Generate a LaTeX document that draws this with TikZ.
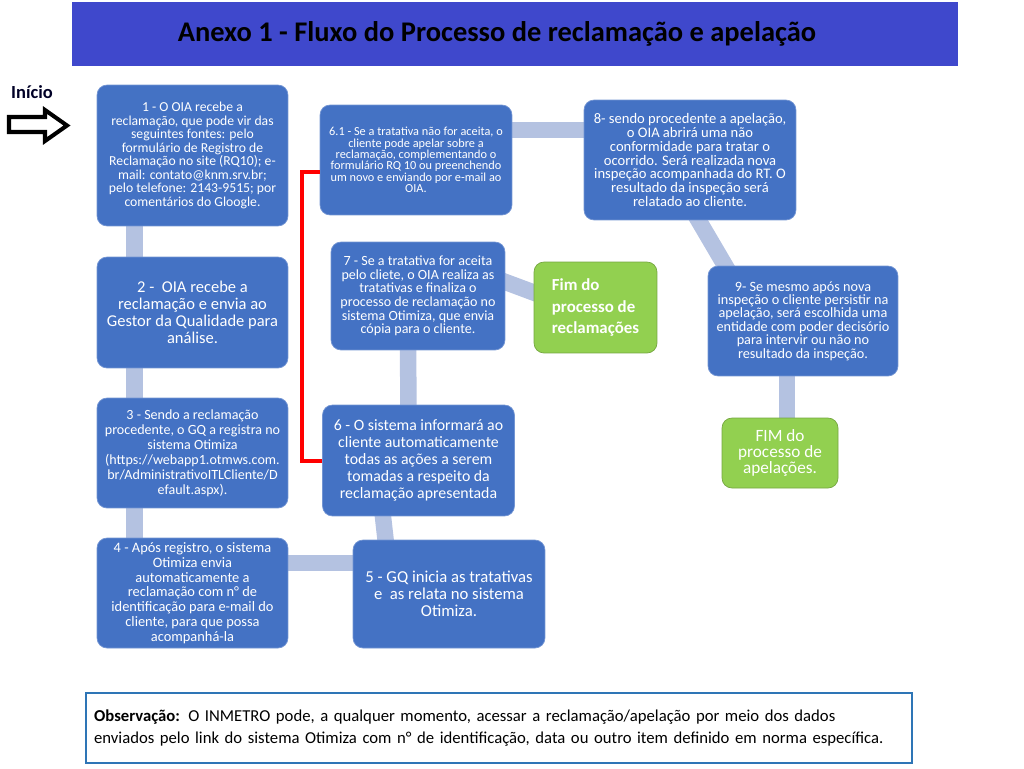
\documentclass[tikz,border=0pt]{standalone}
\usepackage{fontspec}
\setmainfont{Carlito}
\usetikzlibrary{calc,backgrounds}
\definecolor{caixa}{HTML}{4472C4}
\definecolor{ligacao}{HTML}{B4C2E1}
\definecolor{verde}{HTML}{92D050}
\definecolor{faixa}{HTML}{3F48CC}
\definecolor{obsazul}{HTML}{2E75B6}

\begin{document}
\begin{tikzpicture}[x=0.02cm, y=-0.02cm,
  passo/.style={draw=caixa!75!white, fill=caixa, rounded corners=0.2cm, text=white, align=center, inner sep=1pt},
  fim/.style={draw=verde!80!black, fill=verde, rounded corners=0.2cm, text=white, inner sep=1pt},
  barra/.style={draw=ligacao, line width=0.33cm},
  colchete/.style={draw=red, line width=0.08cm},
  titulo/.style={font=\fontsize{16.2}{18}\selectfont\bfseries}
]
\useasboundingbox (0,0) rectangle (1024,768);

% faixa do titulo
\fill[faixa] (72,2) rectangle (958,66);
\node[titulo] (tit) at (497,34) {Anexo 1 - Fluxo do Processo de reclamação e apelação};

% inicio
\node[font=\fontsize{10.5}{12}\selectfont\bfseries, text=black!85!blue] (inicio) at (32,92) {Início};
\draw[line width=2.3pt, line join=miter] (9,117)--(45,117)--(45,110)--(67,125.5)--(45,141)--(45,132)--(9,132)--cycle;

% coluna da esquerda
\node[passo, minimum width=3.82cm, minimum height=2.82cm, font=\fontsize{7.8}{7.7}\selectfont] (b1) at (192.5,155.5)
  {1 - O OIA recebe a\\reclamação, que pode vir das\\seguintes fontes: pelo\\formulário de Registro de\\Reclamação no site (RQ10); e-\\mail: contato@knm.srv.br;\\pelo telefone: 2143-9515; por\\comentários do Gloogle.};
\node[passo, minimum width=3.82cm, minimum height=2.22cm, font=\fontsize{9.4}{9.6}\selectfont] (b2) at (192.5,312.5)
  {2 -\ \ OIA recebe a\\reclamação e envia ao\\Gestor da Qualidade para\\análise.};
\node[passo, minimum width=3.82cm, minimum height=2.2cm, font=\fontsize{8}{8.5}\selectfont] (b3) at (192.5,453)
  {3 - Sendo a reclamação\\procedente, o GQ a registra no\\sistema Otimiza\\(https://webapp1.otmws.com.\\br/AdministrativoITLCliente/D\\efault.aspx).};
\node[passo, minimum width=3.82cm, minimum height=2.2cm, font=\fontsize{8.2}{8.4}\selectfont] (b4) at (192.5,593)
  {4 - Após registro, o sistema\\Otimiza envia\\automaticamente a\\reclamação com n° de\\identificação para e-mail do\\cliente, para que possa\\acompanhá-la};

% coluna do meio
\node[passo, minimum width=3.84cm, minimum height=2.16cm, font=\fontsize{9.5}{9.8}\selectfont] (b5) at (449,594)
  {5 - GQ inicia as tratativas\\e\ \ as relata no sistema\\Otimiza.};
\node[passo, minimum width=3.84cm, minimum height=2.22cm, font=\fontsize{9}{9.6}\selectfont] (b6) at (418.5,460.5)
  {6 - O sistema informará ao\\cliente automaticamente\\todas as ações a serem\\tomadas a respeito da\\reclamação apresentada};
\node[passo, minimum width=3.48cm, minimum height=2.16cm, font=\fontsize{8}{7.7}\selectfont] (b7) at (418,296)
  {7 - Se a tratativa for aceita\\pelo cliete, o OIA realiza as\\tratativas e finaliza o\\processo de reclamação no\\sistema Otimiza, que envia\\cópia para o cliente.};
\node[fim, minimum width=2.46cm, minimum height=1.82cm, align=left, font=\fontsize{9.6}{12.3}\selectfont\bfseries] (fimr) at (595.5,307.5)
  {Fim do\\processo de\\reclamações};
\node[passo, minimum width=3.84cm, minimum height=2.2cm, font=\fontsize{7}{6.5}\selectfont] (b61) at (416,160)
  {6.1 - Se a tratativa não for aceita, o\\cliente pode apelar sobre a\\reclamação, complementando o\\formulário RQ 10 ou preenchendo\\um novo e enviando por e-mail ao\\OIA.};

% coluna da direita
\node[passo, minimum width=4.24cm, minimum height=2.4cm, font=\fontsize{8.3}{7.9}\selectfont] (b8) at (690,160)
  {8- sendo procedente a apelação,\\o OIA abrirá uma não\\conformidade para tratar o\\ocorrido. Será realizada nova\\inspeção acompanhada do RT. O\\resultado da inspeção será\\relatado ao cliente.};
\node[passo, minimum width=3.8cm, minimum height=2.2cm, font=\fontsize{8.1}{7.6}\selectfont] (b9) at (803,321)
  {9- Se mesmo após nova\\inspeção o cliente persistir na\\apelação, será escolhida uma\\entidade com poder decisório\\para intervir ou não no\\resultado da inspeção.};
\node[fim, minimum width=2.32cm, minimum height=1.4cm, align=center, font=\fontsize{9.8}{9.3}\selectfont] (fima) at (780,453)
  {FIM do\\processo de\\apelações.};

% ligacoes
\begin{pgfonlayer}{background}
\foreach \a/\b in {b1/b2,b2/b3,b3/b4}
{
  \draw[barra] ($(\a.south)+(-58,-4)$)--($(\b.north)+(-58,4)$);
}
\draw[barra] ($(b4.east)+(-4,-30)$)--($(b5.west)+(4,-31)$);
\draw[barra] ($(b5.north)+(-63,4)$)--($(b6.south)+(-36,-4)$);
\draw[barra] ($(b6.north)+(-10,4)$)--($(b7.south)+(-10,-4)$);
\draw[barra] ($(b7.east)+(-8,-17)$)--($(fimr.west)+(8,-12)$);
\draw[barra] ($(b61.east)+(-4,-30)$)--($(b8.west)+(4,-30)$);
\draw[barra] ($(b8.south)+(5,-6)$)--($(b9.north west)+(21,6)$);
\draw[barra] ($(b9.south)+(-16,-4)$)--($(fima.north)+(7,4)$);
\end{pgfonlayer}
\draw[colchete] ($(b61.west)+(0,12)$)--++(-18,0)|-(b6.west);

% observacao
\node[draw=obsazul, line width=1.4pt, minimum width=16.52cm, minimum height=1.4cm, text width=16.2cm, align=left,
  font=\fontsize{9.5}{12.5}\selectfont] (obs) at (499,728)
  {\textbf{Observação:} O INMETRO pode, a qualquer momento, acessar a reclamação/apelação por meio dos dados\\enviados pelo link do sistema Otimiza com n° de identificação, data ou outro item definido em norma específica.};
\end{tikzpicture}
\end{document}
